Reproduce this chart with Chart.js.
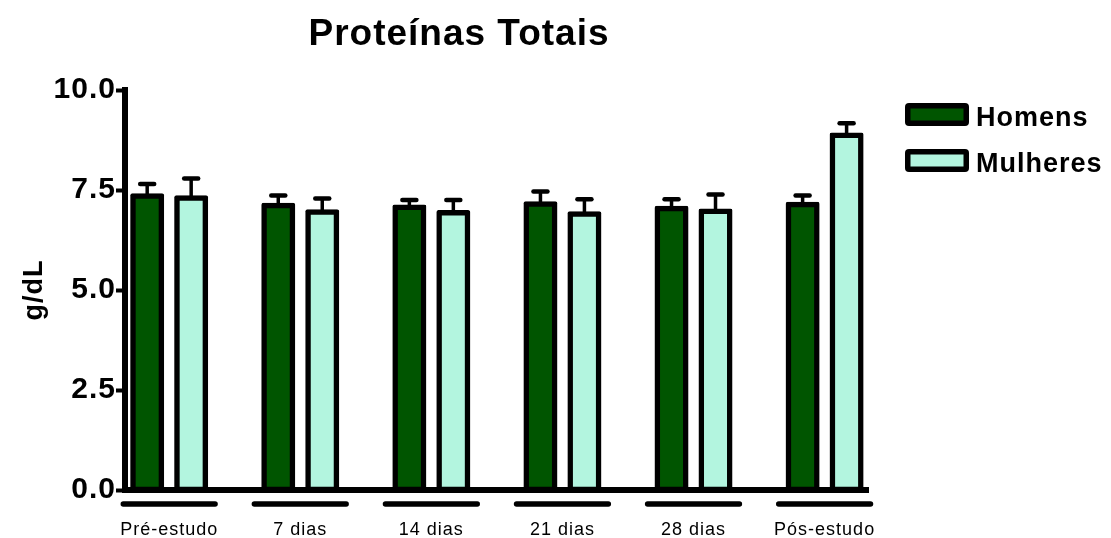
<!DOCTYPE html>
<html>
<head>
<meta charset="utf-8">
<script src="https://cdn.jsdelivr.net/npm/chart.js@4"></script>
<style>
  body { margin: 0; background: #fff; }
  #wrap { width: 1111px; height: 538px; }
</style>
</head>
<body>
<div id="wrap"><canvas id="grafico" width="1111" height="538"></canvas></div>
<script>
// dados
const categorias = ['Pré-estudo', '7 dias', '14 dias', '21 dias', '28 dias', 'Pós-estudo'];
const homens = [7.35, 7.11, 7.07, 7.15, 7.04, 7.14];
const mulheres = [7.30, 6.95, 6.93, 6.90, 6.97, 8.87];
const erroHomens = [0.30, 0.25, 0.18, 0.31, 0.23, 0.22];
const erroMulheres = [0.49, 0.34, 0.32, 0.37, 0.42, 0.30];
const yTicks = [0, 2.5, 5, 7.5, 10];

const fonte = "'Liberation Sans', Arial, sans-serif";
const verdeEscuro = '#005500';
const verdeClaro = '#b3f5df';

// barras de erro, linhas sob os grupos, título e legenda
const extras = {
  id: 'extras',
  beforeDraw(chart) {
    chart.ctx.letterSpacing = '1px';
  },
  afterDatasetsDraw(chart) {
    const ctx = chart.ctx;
    const y = chart.scales.y;
    const erros = [erroHomens, erroMulheres];
    ctx.save();
    ctx.strokeStyle = '#000';
    chart.data.datasets.forEach((ds, d) => {
      chart.getDatasetMeta(d).data.forEach((bar, i) => {
        const topo = y.getPixelForValue(ds.data[i].y + erros[d][i]);
        ctx.lineWidth = 3.5;
        ctx.lineCap = 'butt';
        ctx.beginPath();
        ctx.moveTo(bar.x, bar.y - 2);
        ctx.lineTo(bar.x, topo);
        ctx.stroke();
        ctx.lineWidth = 4.5;
        ctx.lineCap = 'round';
        ctx.beginPath();
        ctx.moveTo(bar.x - 7, topo);
        ctx.lineTo(bar.x + 7, topo);
        ctx.stroke();
      });
    });
    ctx.restore();
  },
  afterDraw(chart) {
    const ctx = chart.ctx;
    const x = chart.scales.x;
    ctx.save();
    // linhas grossas sob cada grupo
    ctx.strokeStyle = '#000';
    ctx.lineWidth = 5.5;
    ctx.lineCap = 'round';
    categorias.forEach((c, i) => {
      ctx.beginPath();
      ctx.moveTo(x.getPixelForValue(i - 0.35), 504);
      ctx.lineTo(x.getPixelForValue(i + 0.35), 504);
      ctx.stroke();
    });

    // título
    ctx.fillStyle = '#000';
    ctx.letterSpacing = '1px';
    ctx.font = 'bold 37px ' + fonte;
    ctx.textAlign = 'center';
    ctx.textBaseline = 'alphabetic';
    ctx.fillText('Proteínas Totais', 459, 45);

    // legenda
    ctx.font = 'bold 27px ' + fonte;
    ctx.textAlign = 'left';
    chart.data.datasets.forEach((ds, d) => {
      const top = 103 + d * 46;
      ctx.fillStyle = '#000';
      ctx.beginPath();
      ctx.roundRect(905, top, 64, 23, 4);
      ctx.fill();
      ctx.fillStyle = ds.backgroundColor;
      ctx.fillRect(910.5, top + 5.5, 53, 12);
      ctx.fillStyle = '#000';
      ctx.fillText(ds.label, 976, top + 23);
    });
    ctx.restore();
  }
};

const grafico = document.getElementById('grafico');

const config = {
  type: 'bar',
  data: {
    datasets: [
      {
        label: 'Homens',
        data: homens.map((v, i) => ({ x: i, y: v })),
        backgroundColor: verdeEscuro,
        borderColor: '#000',
        borderWidth: 5.5,
        borderSkipped: false,
        inflateAmount: 2.75,
        borderRadius: 2
      },
      {
        label: 'Mulheres',
        data: mulheres.map((v, i) => ({ x: i, y: v })),
        backgroundColor: verdeClaro,
        borderColor: '#000',
        borderWidth: 5.5,
        borderSkipped: false,
        inflateAmount: 2.75,
        borderRadius: 2
      }
    ]
  },
  options: {
    responsive: false,
    animation: false,
    devicePixelRatio: 1,
    categoryPercentage: 0.671,
    barPercentage: 0.648,
    layout: { padding: { top: 90, right: 243, bottom: 0, left: 0 } },
    plugins: {
      legend: { display: false },
      title: { display: false },
      tooltip: { enabled: false }
    },
    scales: {
      x: {
        type: 'linear',
        offset: false,
        min: -0.337,
        max: 5.331,
        afterBuildTicks: s => { s.ticks = categorias.map((c, i) => ({ value: i })); },
        afterFit: s => { s.height = 48; },
        grid: { display: false },
        border: { display: true, color: '#000', width: 6 },
        ticks: {
          autoSkip: false,
          maxRotation: 0,
          padding: 21,
          color: '#000',
          font: { family: fonte, size: 18 },
          callback: v => categorias[v]
        }
      },
      y: {
        min: 0,
        max: 10,
        afterBuildTicks: s => { s.ticks = yTicks.map(v => ({ value: v })); },
        afterFit: s => { s.width = 125; },
        grid: {
          drawOnChartArea: false,
          drawTicks: true,
          tickLength: 9,
          tickWidth: 4,
          tickColor: '#000'
        },
        border: { display: true, color: '#000', width: 6 },
        ticks: {
          padding: 0,
          color: '#000',
          font: { family: fonte, size: 30, weight: 'bold' },
          callback: v => v.toFixed(1)
        },
        title: {
          display: true,
          text: 'g/dL',
          color: '#000',
          font: { family: fonte, size: 27, weight: 'bold' },
          padding: { top: 18, bottom: 0 }
        }
      }
    }
  },
  plugins: [extras]
};

let meuGrafico = new Chart(grafico, config);
</script>
</body>
</html>
